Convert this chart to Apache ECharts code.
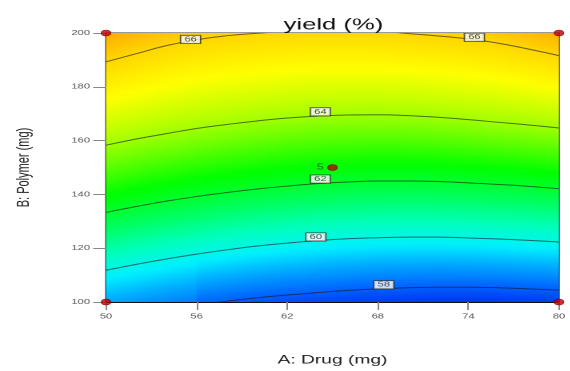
<!DOCTYPE html>
<html><head><meta charset="utf-8">
<script src="https://cdn.jsdelivr.net/npm/echarts@6/dist/echarts.min.js"></script>
<style>
html,body{margin:0;padding:0;background:#fff;overflow:hidden}
#wrap{width:570px;height:371px;overflow:hidden;position:relative}
#c{width:356.25px;height:371px;transform:scaleX(1.6);transform-origin:0 0;position:absolute;left:0;top:0}
</style>
</head><body><div id="wrap"><div id="c"></div></div>
<script>
// ---- data ----
const chartTitle = 'yield (%)';
const xName = 'A: Drug (mg)';
const yName = 'B: Polymer (mg)';
const xTicks = [50, 56, 62, 68, 74, 80];
const yTicks = [100, 120, 140, 160, 180, 200];

// Drug (A) positions at which contour heights (B) were read
const drugA = [50, 52, 54, 56, 58, 60, 62, 64, 66, 68, 70, 72, 74, 76, 78, 80];
const contourLevels = [58, 60, 62, 64, 66];
const contour58 = [null, null, null, 98.8, 100.3, 101.6, 102.6, 103.5, 104.3, 104.9, 105.3, 105.5, 105.5, 105.3, 104.9, 104.4];
const contour60 = [111.8, 114.0, 116.0, 117.8, 119.4, 120.8, 121.9, 122.8, 123.5, 123.9, 124.1, 124.1, 123.8, 123.4, 122.9, 122.3];
const contour62 = [133.3, 135.5, 137.5, 139.2, 140.7, 142.0, 143.1, 144.0, 144.6, 145.0, 145.0, 144.8, 144.3, 143.7, 143.0, 142.1];
const contour64 = [158.3, 160.6, 162.6, 164.5, 166.0, 167.3, 168.4, 169.1, 169.5, 169.6, 169.3, 168.7, 167.8, 166.8, 165.8, 164.7];
const contour66 = [189.3, 192.3, 195.3, 197.5, 199.0, 199.9, 200.6, 201.0, 201.1, 200.8, 199.8, 198.9, 197.8, 196.2, 194.0, 191.6];

// contour label boxes
const labelText = ['66', '66', '64', '62', '60', '58'];
const labelA = [55.6, 74.4, 64.2, 64.2, 63.9, 68.4];
const labelB = [197.6, 198.4, 170.7, 145.7, 124.2, 106.4];

// design points
const designA = [50, 50, 80, 80, 65];
const designB = [100, 200, 100, 200, 150];
const designLabel = ['', '', '', '', '5'];

// colour scale (response value -> colour)
const colorValues = [57.2, 58, 59, 59.7, 60.5, 61.4, 62.5, 63.5, 64.3, 65.1, 66.0, 66.8];
const colorRGB = [[0,40,230],[0,95,255],[0,175,255],[0,240,255],[0,255,190],[0,255,100],[0,255,0],[110,255,0],[190,255,0],[255,255,0],[255,215,0],[255,165,0]];

// ---- helpers ----
const contours = [contour58, contour60, contour62, contour64, contour66];
function colorOf(v) {
  if (v <= colorValues[0]) return 'rgb(' + colorRGB[0].join(',') + ')';
  const n = colorValues.length;
  if (v >= colorValues[n - 1]) return 'rgb(' + colorRGB[n - 1].join(',') + ')';
  for (let k = 0; k < n - 1; k++) {
    if (v <= colorValues[k + 1]) {
      const t = (v - colorValues[k]) / (colorValues[k + 1] - colorValues[k]);
      const c = colorRGB[k].map((c0, m) => Math.round(c0 + (colorRGB[k + 1][m] - c0) * t));
      return 'rgb(' + c.join(',') + ')';
    }
  }
}
function valueAt(pts, B) {
  let k = 0;
  if (B <= pts[0][0]) k = 0;
  else if (B >= pts[pts.length - 1][0]) k = pts.length - 2;
  else { while (k < pts.length - 2 && B > pts[k + 1][0]) k++; }
  const p = pts[k], q = pts[k + 1];
  return p[1] + (B - p[0]) * (q[1] - p[1]) / (q[0] - p[0]);
}
const SUB = 8;
function renderField(params, api) {
  const i = api.value(2);
  const a0 = drugA[i], a1 = drugA[i + 1];
  const children = [];
  for (let s = 0; s < SUB; s++) {
    const t0 = s / SUB, t1 = (s + 1) / SUB, tm = (t0 + t1) / 2;
    const aL = a0 + (a1 - a0) * t0, aR = a0 + (a1 - a0) * t1;
    const pTL = api.coord([aL, 200]);
    const pBR = api.coord([aR, 100]);
    const pts = [];
    for (let j = 0; j < contours.length; j++) {
      const b0 = contours[j][i], b1 = contours[j][i + 1];
      if (b0 == null || b1 == null) continue;
      pts.push([b0 + (b1 - b0) * tm, contourLevels[j]]);
    }
    const stops = [];
    const NS = 50;
    for (let k = 0; k <= NS; k++) {
      const B = 200 - k * (100 / NS);
      stops.push({ offset: k / NS, color: colorOf(valueAt(pts, B)) });
    }
    children.push({
      type: 'rect',
      shape: { x: pTL[0], y: pTL[1], width: pBR[0] - pTL[0] + (i === drugA.length - 2 && s === SUB - 1 ? 0 : 0.5), height: pBR[1] - pTL[1] },
      style: { fill: new echarts.graphic.LinearGradient(0, 0, 0, 1, stops) }
    });
  }
  return { type: 'group', children };
}

const FONT = '"Liberation Sans", Arial, sans-serif';
const series = [];
series.push({
  type: 'custom',
  renderItem: renderField,
  data: drugA.slice(0, -1).map((a, i) => [a, drugA[i + 1], i]),
  encode: { x: [0, 1] },
  silent: true,
  z: 1
});
contours.forEach((arr, j) => {
  const data = [];
  arr.forEach((b, i) => { if (b != null) data.push([drugA[i], b]); });
  series.push({
    type: 'line', data, smooth: true, symbol: 'none', clip: true, silent: true,
    lineStyle: { color: 'rgba(25,25,25,0.62)', width: 1 }, z: 3
  });
});
series.push({
  type: 'scatter', symbolSize: 0, silent: true, z: 5,
  data: labelText.map((t, i) => ({ value: [labelA[i], labelB[i]], name: t })),
  label: {
    show: true, position: 'inside', formatter: p => p.name,
    fontFamily: FONT, fontSize: 7, color: '#222', lineHeight: 7,
    backgroundColor: '#fff', borderColor: '#333', borderWidth: 0.8, padding: [0.5, 2, 0, 2]
  }
});
series.push({
  type: 'scatter', silent: true, z: 6, symbol: 'circle', symbolSize: 6,
  itemStyle: { color: '#c00000', borderColor: '#7a0000', borderWidth: 0.6 },
  data: designA.map((a, i) => ({ value: [a, designB[i]], name: designLabel[i] })),
  label: { show: true, position: 'left', distance: 2, formatter: p => p.name, fontFamily: FONT, fontSize: 8, color: '#1a3a1a' }
});

const chart = echarts.init(document.getElementById('c'), null, { devicePixelRatio: 2, width: 356.25, height: 371 });
chart.setOption({
  animation: false,
  backgroundColor: '#fff',
  title: {
    text: chartTitle, left: 208.4, top: 17, textAlign: 'center', padding: 0,
    textStyle: { fontFamily: FONT, fontSize: 16, fontWeight: 'normal', color: '#111' }
  },
  grid: { left: 66.25, right: 3.75, top: 33, bottom: 63, show: true, borderColor: '#333', borderWidth: 1, backgroundColor: 'transparent' },
  xAxis: {
    type: 'value', min: 50, max: 80,
    name: xName, nameLocation: 'middle', nameGap: 52,
    nameTextStyle: { fontFamily: FONT, fontSize: 12, color: '#222' },
    axisLine: { show: true, lineStyle: { color: '#111', width: 1 } },
    axisTick: { show: true, length: 8, customValues: xTicks, lineStyle: { color: '#888' } },
    axisLabel: { customValues: xTicks, fontFamily: FONT, fontSize: 7, color: '#555', margin: 11 },
    splitLine: { show: false }
  },
  yAxis: {
    type: 'value', min: 100, max: 200, interval: 20,
    name: yName, nameLocation: 'middle', nameGap: 46,
    nameTextStyle: { fontFamily: FONT, fontSize: 11, color: '#222' },
    axisLine: { show: true, lineStyle: { color: '#111', width: 1 } },
    axisTick: { show: true, length: 8, customValues: yTicks, lineStyle: { color: '#888' } },
    axisLabel: { customValues: yTicks, fontFamily: FONT, fontSize: 7, color: '#555', margin: 10 },
    splitLine: { show: false }
  },
  series
});
</script>
</body></html>
